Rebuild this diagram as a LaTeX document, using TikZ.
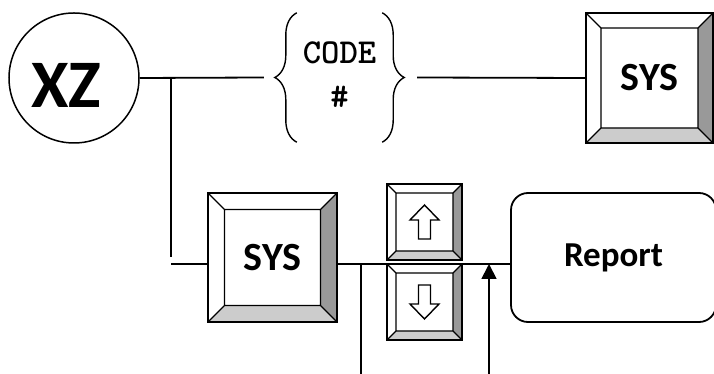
\documentclass[tikz,border=0pt]{standalone}
\usepackage{fontspec}
\setmainfont{Carlito}
\usetikzlibrary{arrows.meta,decorations.pathreplacing}
\definecolor{keydark}{RGB}{153,153,153}
\definecolor{keylight}{RGB}{204,204,204}

\tikzset{
  bevel/.store in=\keybevel, bevel=15,
  wire/.style={line width=1.8pt},
  keycap/.style={draw, line width=1.8pt, fill=white, inner sep=0pt,
    font=\fontsize{40}{48}\selectfont\bfseries,
    path picture={
      \coordinate (kSW) at (path picture bounding box.south west);
      \coordinate (kNE) at (path picture bounding box.north east);
      \coordinate (iSW) at ([shift={(\keybevel pt,\keybevel pt)}]kSW);
      \coordinate (iNE) at ([shift={(-\keybevel pt,-\keybevel pt)}]kNE);
      \fill[keydark] (kNE) -- (kNE |- kSW) -- (iNE |- iSW) -- (iNE) -- cycle;
      \fill[keylight] (kSW) -- (kNE |- kSW) -- (iNE |- iSW) -- (iSW) -- cycle;
      \draw[line width=1.3pt] (iSW) rectangle (iNE)
        (kSW) -- (iSW) (kNE) -- (iNE)
        (kSW |- kNE) -- (iSW |- iNE) (kNE |- kSW) -- (iNE |- iSW);
    }},
  bracket/.style={decorate, decoration={brace, amplitude=22pt}, line width=1.4pt},
  glyph/.style={draw, fill=white, line width=1.4pt, line join=miter},
}

\begin{document}
\begin{tikzpicture}[x=1pt,y=1pt]
  \useasboundingbox (0,0) rectangle (714,374);
  \coordinate (floor) at (0,0);

  % start circle and code group
  \node[circle, draw, line width=1.5pt, minimum size=130pt, inner sep=0pt] (xz) at (74,296) {};
  \node[font=\fontsize{68}{80}\selectfont\bfseries] (xzlabel) at (66,289) {XZ};
  \node[font=\ttfamily\bfseries\fontsize{35}{44}\selectfont, align=center,
    minimum width=85pt, minimum height=129pt, inner sep=0pt, text depth=6pt]
    (code) at (339.5,296.5) {CODE\\\#};
  \draw[bracket] (code.south west) -- (code.north west);
  \draw[bracket] (code.north east) -- (code.south east);

  % keys
  \node[keycap, bevel=15, minimum width=127pt, minimum height=130pt] (systop) at (649.5,296) {SYS};
  \node[keycap, bevel=16.5, minimum width=129pt, minimum height=129pt] (sysmid) at (272.5,116.5) {SYS};
  \node[keycap, bevel=9, minimum width=75pt, minimum height=76pt] (keyup) at (424.5,152) {};
  \node[keycap, bevel=9, minimum width=75pt, minimum height=76pt] (keydown) at (424.5,72) {};
  \foreach \k/\s in {keyup/1, keydown/-1}
    \draw[glyph, shift={(\k.center)}, yscale=\s]
      (0,17) -- (14.5,2) -- (6,2) -- (6,-17) -- (-6,-17) -- (-6,2) -- (-14.5,2) -- cycle;

  \node[draw, wire, rounded corners=17pt, minimum width=205pt, minimum height=129pt,
    font=\fontsize{35}{42}\selectfont\bfseries] (report) at (613.5,116.5) {Report};

  % wiring
  \draw[wire] (xz.east) -- ([xshift=-33pt]code.west);
  \draw[wire] ([xshift=35pt]code.east) -- (systop.west);
  \coordinate (split) at (171,296);
  \draw[wire] (split) -- (split |- sysmid.center);
  \coordinate (rail) at (0,110);
  \draw[wire] (split |- rail) -- (sysmid.west |- rail);
  \draw[wire] (sysmid.east |- rail) -- (report.west |- rail);
  \coordinate (tapout) at (361,110);
  \coordinate (tapin) at (489,110);
  \draw[wire] (tapout) -- (tapout |- floor);
  \draw[wire, -{Triangle[width=15pt,length=15pt]}] (tapin |- floor) -- (tapin);
\end{tikzpicture}
\end{document}
